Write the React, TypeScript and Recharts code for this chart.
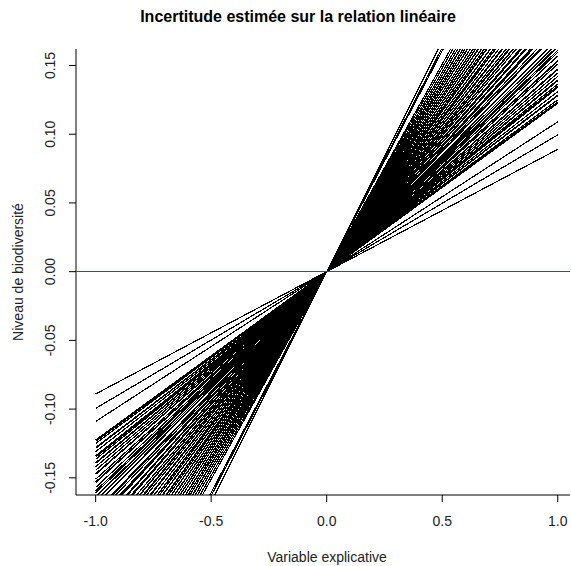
import { LineChart, Line, XAxis, YAxis, ReferenceLine } from "recharts";

// value of each sampled regression line at x = 1 (all lines pass through the origin)
const slopes = [
  0.089, 0.0995, 0.109, 0.1225, 0.1235, 0.125, 0.128, 0.1285, 0.131, 0.134,
  0.135, 0.1365, 0.139, 0.1395, 0.142, 0.1445, 0.147, 0.1475, 0.151, 0.153,
  0.1535, 0.157, 0.1595, 0.161,
  0.1635, 0.164, 0.1665, 0.1695, 0.170, 0.1745, 0.1755, 0.178, 0.1815, 0.182,
  0.1835, 0.1875, 0.1885, 0.192, 0.1925, 0.1935, 0.1975, 0.2005, 0.201, 0.2045,
  0.2055, 0.2085, 0.2125, 0.213, 0.2135, 0.2175, 0.2215, 0.222, 0.2245, 0.2285,
  0.229, 0.2335, 0.2345, 0.2375, 0.2415, 0.242, 0.2465, 0.247, 0.2515, 0.2555,
  0.256, 0.2605, 0.2655, 0.266, 0.2705, 0.2745, 0.2795, 0.2805, 0.2855, 0.2905,
  0.2965, 0.302, 0.3215, 0.326, 0.3355,
];
const xEnds = [-1, 1];
const xTicks = [-1, -0.5, 0, 0.5, 1];
const yTicks = [-0.15, -0.1, -0.05, 0, 0.05, 0.1, 0.15];
const xDomain = [-1.085, 1.053];
const yDomain = [-0.1625, 0.162];

const FONT = "'Liberation Sans', Arial, sans-serif";

const XTick = ({ x, payload }: any) => (
  <text x={x} y={521} textAnchor="middle" dominantBaseline="central" fontSize={14} fontFamily={FONT} fill="#222">
    {Number(payload.value).toFixed(1)}
  </text>
);

const YTick = ({ y, payload }: any) => (
  <text
    x={50}
    y={y}
    transform={`rotate(-90, 50, ${y})`}
    textAnchor="middle"
    dominantBaseline="central"
    fontSize={14}
    fontFamily={FONT}
    fill="#222"
  >
    {Number(payload.value).toFixed(2)}
  </text>
);

export default function App() {
  return (
    <div style={{ position: "absolute", left: 0, top: 0, width: 571, height: 566, background: "#fff" }}>
      <style>{`.recharts-line-curve, .recharts-reference-line-line { shape-rendering: crispEdges; }`}</style>
      <svg style={{ position: "absolute", left: 0, top: 0 }} width={571} height={566}>
        <text x={298} y={16} textAnchor="middle" dominantBaseline="central" fontSize={16} fontWeight="bold" fontFamily={FONT} fill="#000">
          Incertitude estimée sur la relation linéaire
        </text>
        <text x={327} y={557} textAnchor="middle" dominantBaseline="central" fontSize={14} fontFamily={FONT} fill="#222">
          Variable explicative
        </text>
        <text x={18} y={272} transform="rotate(-90, 18, 272)" textAnchor="middle" dominantBaseline="central" fontSize={14} fontFamily={FONT} fill="#222">
          Niveau de biodiversité
        </text>
      </svg>
      <div style={{ position: "absolute", left: 0, top: 0 }}>
        <LineChart width={571} height={566} margin={{ top: 49, right: 1, bottom: 0, left: 0 }}>
          <XAxis
            type="number"
            dataKey="x"
            domain={xDomain}
            ticks={xTicks}
            allowDataOverflow
            height={71}
            tickSize={7}
            tick={<XTick />}
            stroke="#000"
            interval={0}
          />
          {/* top and right axes only close the plot box */}
          <XAxis xAxisId="top" orientation="top" type="number" dataKey="x" domain={xDomain} allowDataOverflow height={0} tick={false} tickLine={false} stroke="#000" />
          <YAxis
            type="number"
            dataKey="y"
            domain={yDomain}
            ticks={yTicks}
            allowDataOverflow
            width={76}
            tickSize={7}
            tick={<YTick />}
            stroke="#000"
            interval={0}
          />
          <YAxis yAxisId="right" orientation="right" type="number" dataKey="y" domain={yDomain} allowDataOverflow width={0} tick={false} tickLine={false} stroke="#000" />
          {slopes.map((s, i) => (
            <Line
              key={`l-${i}`}
              data={xEnds.map((x) => ({ x, y: x * s }))}
              dataKey="y"
              stroke="#000"
              strokeWidth={1.2}
              dot={false}
              activeDot={false}
              legendType="none"
              isAnimationActive={false}
            />
          ))}
        </LineChart>
      </div>
      {/* red y = 0 line in its own layer so it sits above the black lines */}
      <div style={{ position: "absolute", left: 0, top: 0 }}>
        <LineChart width={571} height={566} margin={{ top: 49, right: 1, bottom: 71, left: 76 }}>
          <XAxis type="number" dataKey="x" domain={xDomain} allowDataOverflow hide />
          <YAxis type="number" dataKey="y" domain={yDomain} allowDataOverflow hide />
          <ReferenceLine y={0} stroke="#ff0000" strokeWidth={1} />
        </LineChart>
      </div>
    </div>
  );
}
